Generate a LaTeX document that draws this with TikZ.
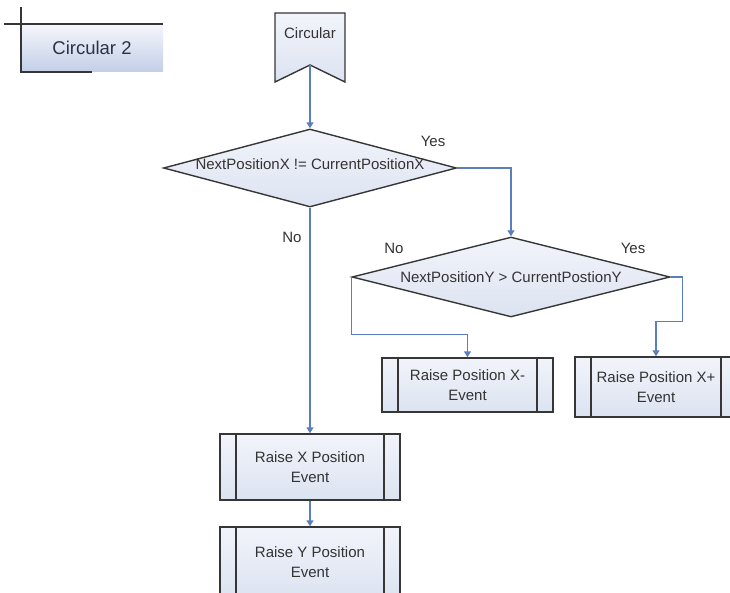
\documentclass[tikz,border=0pt]{standalone}
\usepackage{fontspec}
\setmainfont{Liberation Sans}
\usetikzlibrary{shapes.geometric,arrows.meta}
\definecolor{edge}{HTML}{363636}
\definecolor{flow}{HTML}{5A7EBE}
\definecolor{ink}{HTML}{333333}
\definecolor{fillTop}{HTML}{F1F4FA}
\definecolor{fillBot}{HTML}{DCE3F1}
\definecolor{laneTop}{HTML}{F4F6FB}
\definecolor{laneBot}{HTML}{C3CFE8}
\definecolor{laneInk}{HTML}{2B3244}
\begin{document}
\begin{tikzpicture}[x=1pt,y=-1pt,
  every node/.style={font=\fontsize{15}{20}\selectfont, text=ink},
  shapefill/.style={top color=fillTop, bottom color=fillBot, draw=edge, line width=1.4pt},
  decision/.style={shapefill, diamond, inner sep=0pt},
  subproc/.style={shapefill, rectangle, inner sep=0pt, align=center,
    path picture={\draw[edge, line width=1.4pt]
      ([xshift=16pt]path picture bounding box.north west) -- ([xshift=16pt]path picture bounding box.south west)
      ([xshift=-16pt]path picture bounding box.north east) -- ([xshift=-16pt]path picture bounding box.south east);}},
  offpage/.style={rectangle, inner sep=0pt, minimum width=72pt, minimum height=71pt,
    path picture={\path[shapefill]
      ([shift={(1pt,-1pt)}]path picture bounding box.north west) --
      ([shift={(-1pt,-1pt)}]path picture bounding box.north east) --
      ([shift={(-1pt,1pt)}]path picture bounding box.south east) --
      ([yshift=18pt]path picture bounding box.south) --
      ([shift={(1pt,1pt)}]path picture bounding box.south west) -- cycle;}},
  lane/.style={rectangle, inner sep=0pt, minimum width=142pt, minimum height=48pt,
    top color=laneTop, bottom color=laneBot, text=laneInk, font=\fontsize{18.5}{22}\selectfont},
  laneline/.style={draw=edge, line width=1.8pt},
  flowline/.style={draw=flow, line width=1.4pt, -{Triangle[width=7pt,length=6pt]}}
]
\useasboundingbox (0,0) rectangle (730,593);
\clip (0,0) rectangle (730,593);

% swimlane header
\node[lane] (lane) at (92,48) {Circular 2};
\draw[laneline] ([xshift=-17pt]lane.north west) -- (lane.north east);
\draw[laneline] ([yshift=17pt]lane.north west) -- (lane.south west) -- ([xshift=71pt]lane.south west);

% off-page entry
\node[offpage] (circ) at (310,47.5) {};
\node (circtext) at ([yshift=14.5pt]circ.center) {Circular};

% decisions
\node[decision, aspect=3.76, minimum width=293pt, minimum height=78pt,
      label={[yshift=4pt]center:NextPositionX != CurrentPositionX}] (d1) at (310,168) {};
\node[decision, aspect=3.98, minimum width=318pt, minimum height=80pt] (d2) at (511,277)
      {NextPositionY > CurrentPostionY};

% sub-processes
\node[subproc, minimum width=171pt, minimum height=54pt] (xm) at (467.5,385) {Raise Position X-\\Event};
\node[subproc, minimum width=162pt, minimum height=60pt] (xp) at (656,387) {Raise Position X+\\Event};
\node[subproc, minimum width=180pt, minimum height=66pt] (xe) at (310,467) {Raise X Position\\Event};
\node[subproc, minimum width=180pt, minimum height=70pt] (ye) at (310,562) {Raise Y Position\\Event};

% connectors
\draw[flowline] ([yshift=18pt]circ.south) -- (d1.north);
\draw[flowline] (d1.east) -| (d2.north);
\draw[flowline] (d1.south) -- (xe.north);
\draw[flowline] (xe.south) -- (ye.north);
\draw[flowline] (d2.west) |- ([yshift=23pt]xm.north) -- (xm.north);
\draw[flowline] (d2.east) -- ++(12,0) |- ([yshift=35pt]xp.north) -- (xp.north);

% branch labels
\node (yes1) at (433,141) {Yes};
\node (no1) at (292,237) {No};
\node (no2) at (394,248) {No};
\node (yes2) at (633,248) {Yes};
\end{tikzpicture}
\end{document}
